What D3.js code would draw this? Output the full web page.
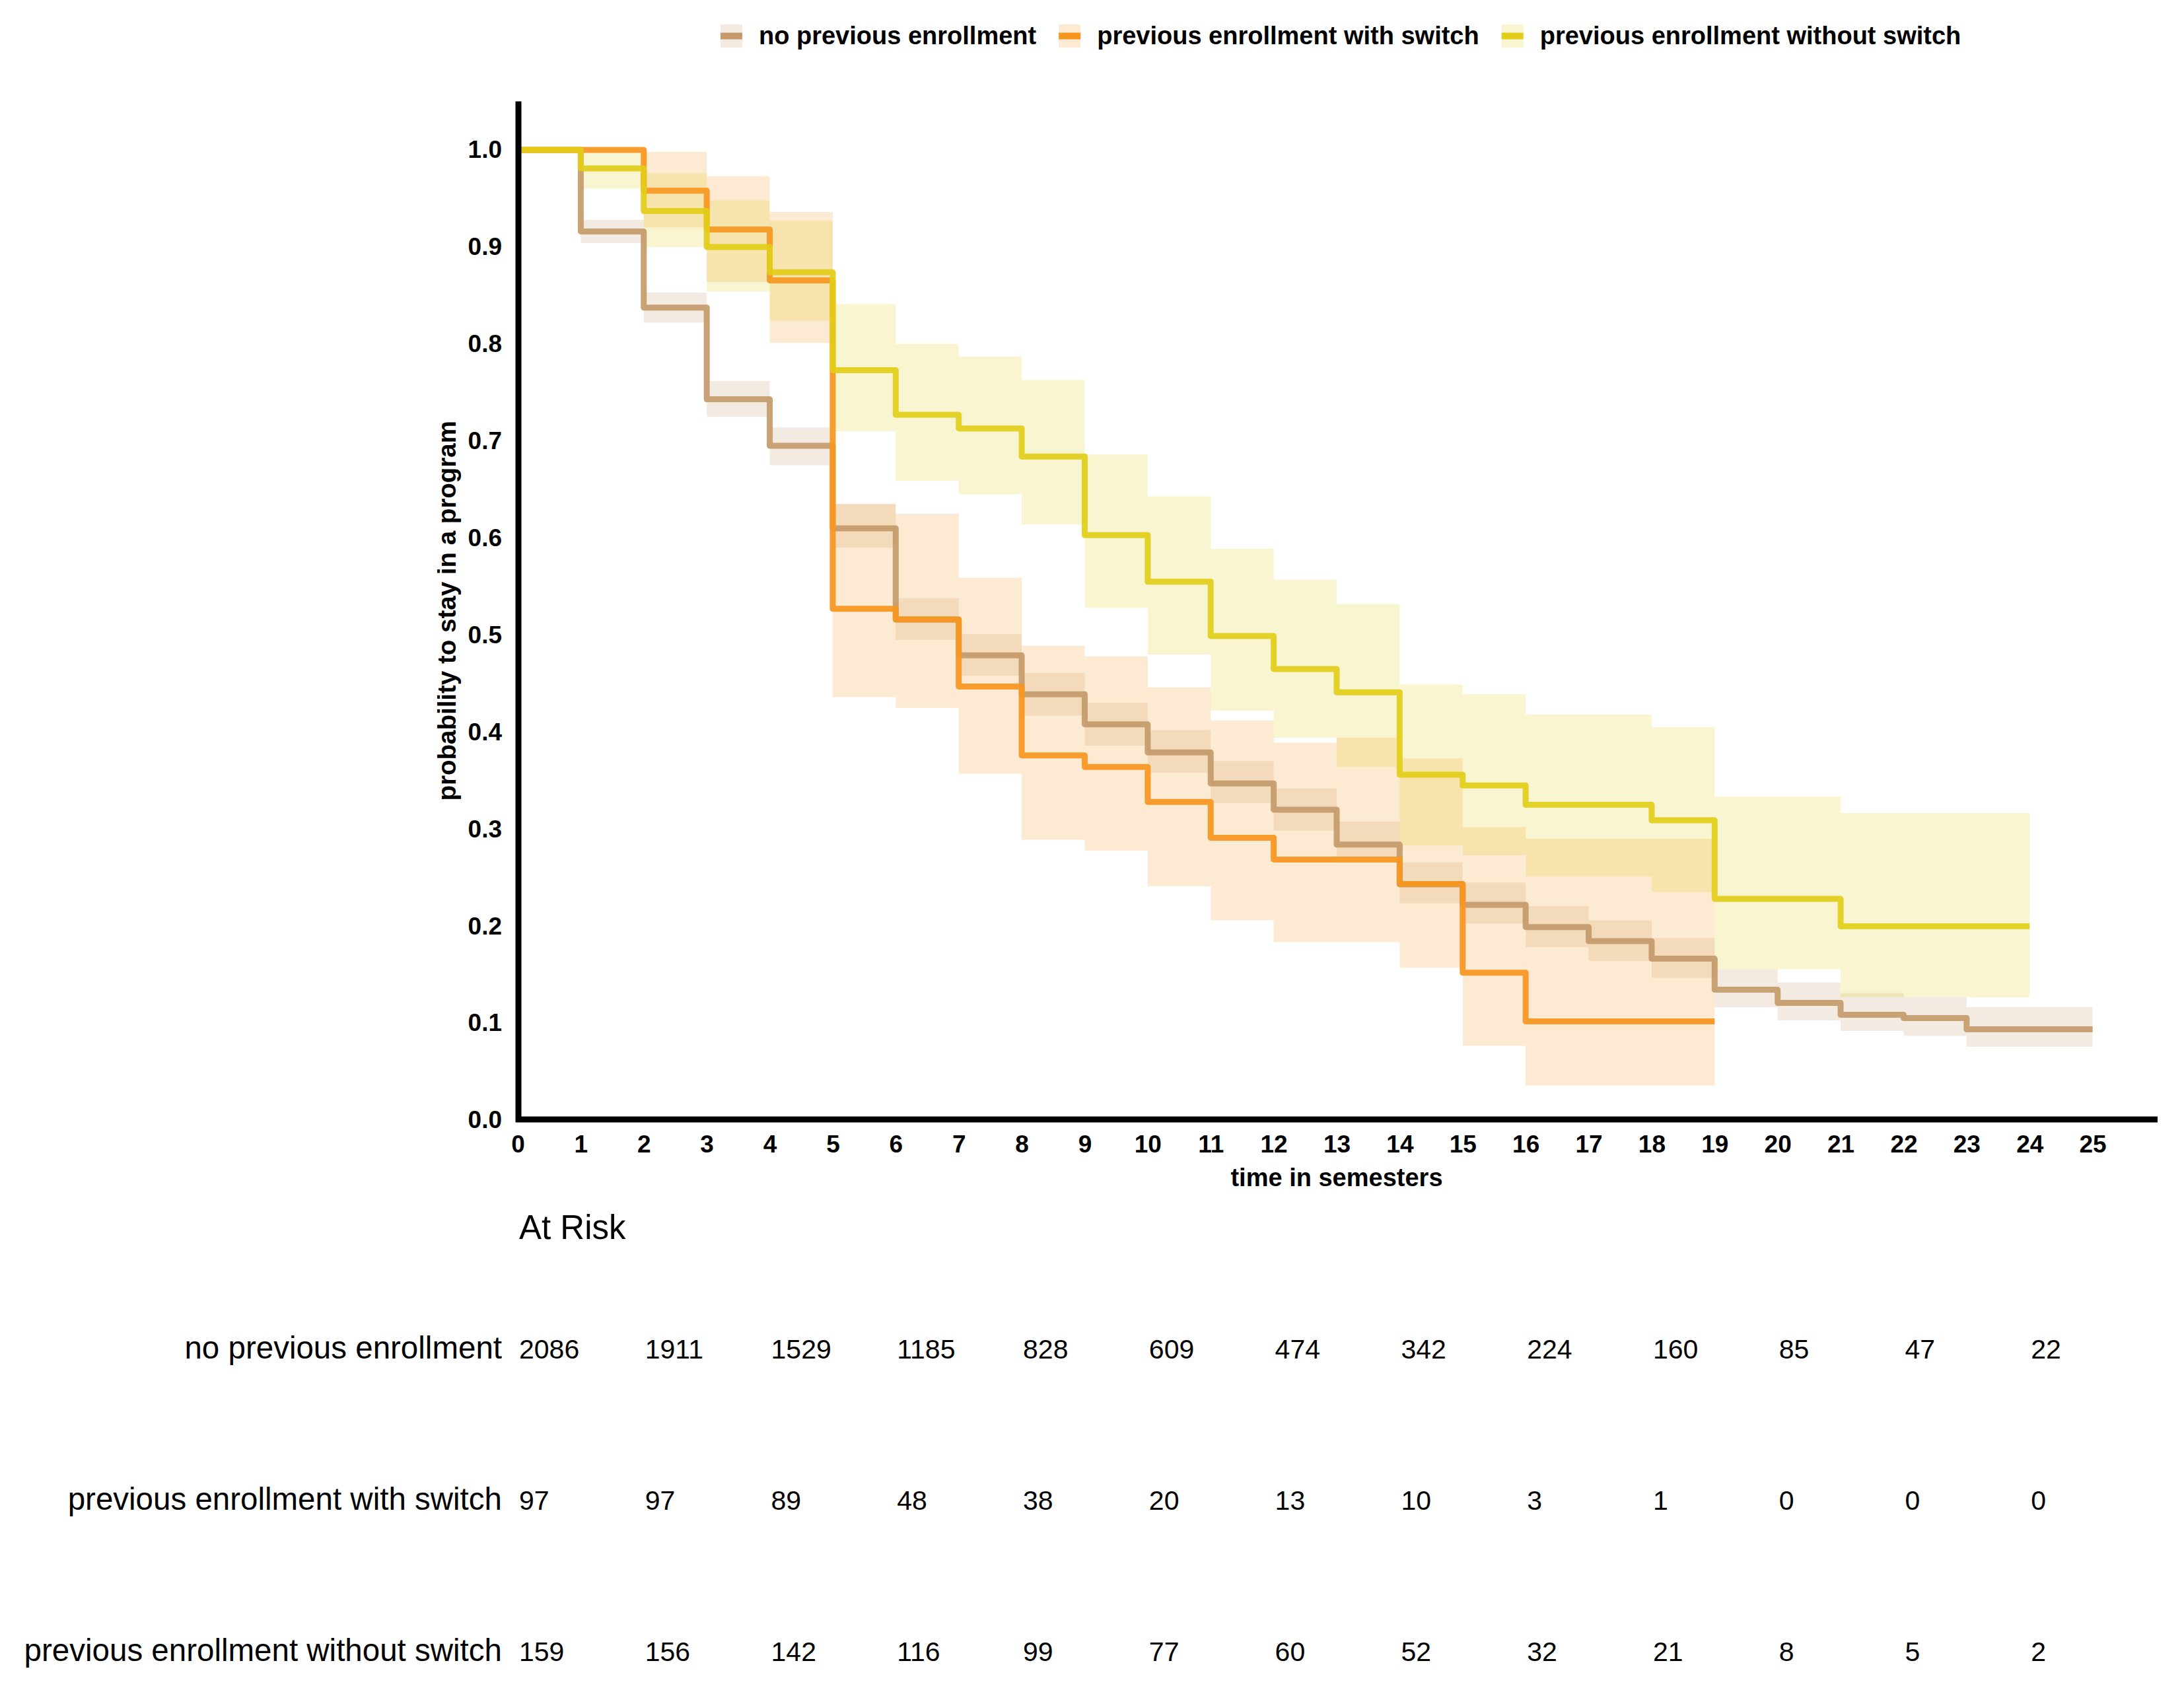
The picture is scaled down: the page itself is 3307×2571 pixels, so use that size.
<!DOCTYPE html>
<html>
<head>
<meta charset="utf-8">
<script src="https://cdn.jsdelivr.net/npm/d3@7"></script>
<style>
  html, body { margin: 0; padding: 0; background: #ffffff; }
  svg { display: block; }
  text { font-family: "Liberation Sans", Arial, sans-serif; }
</style>
</head>
<body>
<svg id="chart" width="3307" height="2571"></svg>
<script>
// ---------------- data ----------------
const seriesNames = ["no previous enrollment", "previous enrollment with switch", "previous enrollment without switch"];
const seriesColors = ["#C49A6A", "#F7961E", "#E2CD18"];

// step values per interval [t, t+1)
const survNoPrev = [1.0, 0.916, 0.8375, 0.743, 0.695, 0.610, 0.516, 0.479, 0.439, 0.408, 0.379, 0.347, 0.320, 0.284, 0.243, 0.222, 0.199, 0.1845, 0.1664, 0.1344, 0.1208, 0.1086, 0.1052, 0.0936, 0.0936];
const lowerNoPrev = [1.0, 0.904, 0.822, 0.725, 0.675, 0.590, 0.495, 0.458, 0.417, 0.386, 0.358, 0.327, 0.2985, 0.2656, 0.2236, 0.2025, 0.1786, 0.1640, 0.1467, 0.1164, 0.1028, 0.0919, 0.0868, 0.0756, 0.0756];
const upperNoPrev = [1.0, 0.928, 0.853, 0.762, 0.714, 0.635, 0.538, 0.501, 0.461, 0.430, 0.402, 0.370, 0.3417, 0.3077, 0.2656, 0.2447, 0.2208, 0.2059, 0.1875, 0.1555, 0.1419, 0.1310, 0.1266, 0.1164, 0.1164];

const survSwitch = [1.0, 1.0, 0.958, 0.918, 0.8655, 0.527, 0.516, 0.447, 0.376, 0.364, 0.328, 0.291, 0.2686, 0.2686, 0.2434, 0.152, 0.1018, 0.1018, 0.1018];
const lowerSwitch = [1.0, 1.0, 0.920, 0.864, 0.801, 0.436, 0.425, 0.357, 0.289, 0.278, 0.241, 0.206, 0.1835, 0.1835, 0.157, 0.0766, 0.0357, 0.0357, 0.0357];
const upperSwitch = [1.0, 1.0, 0.998, 0.973, 0.936, 0.635, 0.625, 0.559, 0.489, 0.478, 0.446, 0.412, 0.389, 0.394, 0.3727, 0.302, 0.290, 0.290, 0.290];

const survNoSwitch = [1.0, 0.981, 0.937, 0.900, 0.874, 0.773, 0.727, 0.713, 0.684, 0.603, 0.555, 0.499, 0.465, 0.441, 0.356, 0.345, 0.325, 0.325, 0.309, 0.228, 0.228, 0.1998, 0.1998, 0.1998];
const lowerNoSwitch = [1.0, 0.960, 0.900, 0.854, 0.824, 0.710, 0.659, 0.645, 0.614, 0.528, 0.480, 0.422, 0.394, 0.364, 0.283, 0.273, 0.251, 0.251, 0.235, 0.1555, 0.1555, 0.1266, 0.1266, 0.1266];
const upperNoSwitch = [1.0, 0.998, 0.976, 0.948, 0.927, 0.841, 0.800, 0.787, 0.763, 0.686, 0.643, 0.589, 0.557, 0.532, 0.449, 0.439, 0.418, 0.418, 0.405, 0.3336, 0.3336, 0.3165, 0.3165, 0.3165];

const xTicks = d3.range(0, 26);
const yTicks = [0, 0.1, 0.2, 0.3, 0.4, 0.5, 0.6, 0.7, 0.8, 0.9, 1.0];

const atRiskTimes = [0, 2, 4, 6, 8, 10, 12, 14, 16, 18, 20, 22, 24];
const atRiskNoPrev = [2086, 1911, 1529, 1185, 828, 609, 474, 342, 224, 160, 85, 47, 22];
const atRiskSwitch = [97, 97, 89, 48, 38, 20, 13, 10, 3, 1, 0, 0, 0];
const atRiskNoSwitch = [159, 156, 142, 116, 99, 77, 60, 52, 32, 21, 8, 5, 2];

// ---------------- layout ----------------
const svg = d3.select("#chart");
svg.append("rect").attr("width", 3307).attr("height", 2571).attr("fill", "#ffffff");

const x = d3.scaleLinear().domain([0, 26]).range([784, 3264]);
const y = d3.scaleLinear().domain([0, 1.05]).range([1696, 153.6]);

function stepPoints(vals) {
  const pts = vals.map((v, i) => ({ t: i, v: v }));
  pts.push({ t: vals.length, v: vals[vals.length - 1] });
  return pts;
}
function bandPoints(lo, hi) {
  const pts = lo.map((v, i) => ({ t: i, lo: v, hi: hi[i] }));
  pts.push({ t: lo.length, lo: lo[lo.length - 1], hi: hi[hi.length - 1] });
  return pts;
}

const series = [
  { surv: survNoPrev, lo: lowerNoPrev, hi: upperNoPrev },
  { surv: survSwitch, lo: lowerSwitch, hi: upperSwitch },
  { surv: survNoSwitch, lo: lowerNoSwitch, hi: upperNoSwitch }
];

const area = d3.area().curve(d3.curveStepAfter)
  .x(d => x(d.t)).y0(d => y(d.lo)).y1(d => y(d.hi));
const line = d3.line().curve(d3.curveStepAfter)
  .x(d => x(d.t)).y(d => y(d.v));

const gBands = svg.append("g");
series.forEach((s, i) => {
  gBands.append("path")
    .attr("d", area(bandPoints(s.lo, s.hi)))
    .attr("fill", seriesColors[i])
    .attr("fill-opacity", 0.2);
});

const gLines = svg.append("g");
series.forEach((s, i) => {
  gLines.append("path")
    .attr("d", line(stepPoints(s.surv)))
    .attr("fill", "none")
    .attr("stroke", seriesColors[i])
    .attr("stroke-opacity", 0.92)
    .attr("stroke-width", 9)
    .attr("stroke-linejoin", "round")
    .attr("stroke-linecap", "butt");
});

// axes
const xAxis = d3.axisBottom(x).tickValues(xTicks).tickSize(0).tickPadding(24).tickFormat(d3.format("d"));
const gx = svg.append("g").attr("transform", "translate(0,1695)").call(xAxis);
gx.select(".domain").remove();
gx.selectAll("text").attr("font-size", 37).attr("font-weight", "bold")
  .attr("font-family", "'Liberation Sans', Arial, sans-serif").attr("fill", "#000");

const yAxis = d3.axisLeft(y).tickValues(yTicks).tickSize(0).tickPadding(25).tickFormat(d3.format(".1f"));
const gy = svg.append("g").attr("transform", "translate(785,0)").call(yAxis);
gy.select(".domain").remove();
gy.selectAll("text").attr("font-size", 37).attr("font-weight", "bold")
  .attr("font-family", "'Liberation Sans', Arial, sans-serif").attr("fill", "#000");

svg.append("line").attr("x1", 785).attr("x2", 785).attr("y1", y(1.05)).attr("y2", 1699)
  .attr("stroke", "#000").attr("stroke-width", 9);
svg.append("line").attr("x1", 781).attr("x2", 3267).attr("y1", 1695).attr("y2", 1695)
  .attr("stroke", "#000").attr("stroke-width", 9);

svg.append("text").attr("x", (784 + 3264) / 2).attr("y", 1796)
  .attr("text-anchor", "middle").attr("font-size", 38).attr("font-weight", "bold")
  .text("time in semesters");
svg.append("text").attr("transform", "translate(690," + ((153.6 + 1696) / 2) + ") rotate(-90)")
  .attr("text-anchor", "middle").attr("font-size", 38.5).attr("font-weight", "bold")
  .text("probability to stay in a program");

// legend
const gLeg = svg.append("g");
let lx = 1091;
seriesNames.forEach((name, i) => {
  gLeg.append("rect").attr("x", lx).attr("y", 37).attr("width", 33).attr("height", 35)
    .attr("fill", seriesColors[i]).attr("fill-opacity", 0.2);
  gLeg.append("rect").attr("x", lx).attr("y", 49.5).attr("width", 33).attr("height", 10)
    .attr("fill", seriesColors[i]);
  const t = gLeg.append("text").attr("x", lx + 58).attr("y", 67)
    .attr("font-size", 38).attr("font-weight", "bold").text(name);
  const w = t.node().getComputedTextLength();
  lx = lx + 58 + w + 34;
});

// at-risk table
svg.append("text").attr("x", 786).attr("y", 1876).attr("font-size", 51).text("At Risk");
const rows = [atRiskNoPrev, atRiskSwitch, atRiskNoSwitch];
const rowY = [2057, 2286, 2515];
rows.forEach((vals, r) => {
  svg.append("text").attr("x", 760).attr("y", rowY[r]).attr("text-anchor", "end")
    .attr("font-size", 47.5).text(seriesNames[r]);
  svg.append("g").selectAll("text").data(vals).join("text")
    .attr("x", (d, i) => x(atRiskTimes[i]) + 2)
    .attr("y", rowY[r])
    .attr("font-size", 41)
    .text(d => d);
});
</script>
</body>
</html>
